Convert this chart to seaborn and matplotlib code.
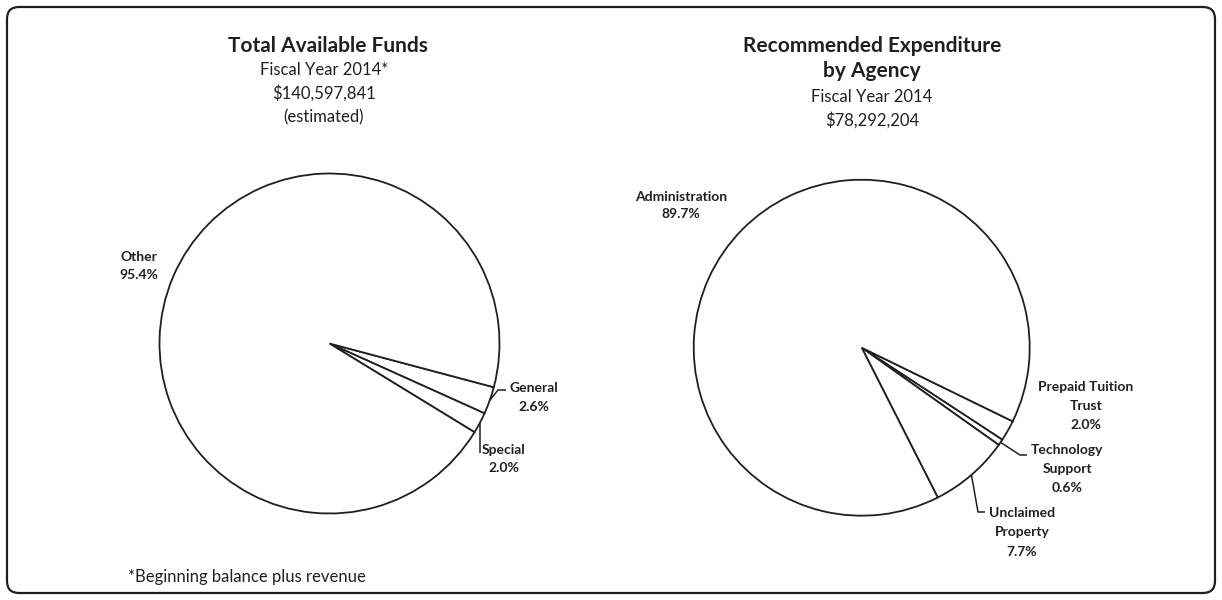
import numpy as np
import matplotlib
matplotlib.use("Agg")
import matplotlib.pyplot as plt
from matplotlib.patches import FancyBboxPatch
import seaborn as sns

# ---------------- data ----------------
fund_labels = ["General", "Special", "Other"]
fund_pcts = [2.6, 2.0, 95.4]

agency_labels = ["Prepaid Tuition\nTrust", "Technology\nSupport", "Unclaimed\nProperty", "Administration"]
agency_pcts = [2.0, 0.6, 7.7, 89.7]

left_title = "Total Available Funds"
left_sub = ["Fiscal Year 2014*", "$140,597,841", "(estimated)"]
right_title = ["Recommended Expenditure", "by Agency"]
right_sub = ["Fiscal Year 2014", "$78,292,204"]
footnote = "*Beginning balance plus revenue"

# ---------------- style ----------------
sns.set_theme(style="white")
plt.rcParams["font.family"] = ["Lato", "DejaVu Sans"]
INK = "#231f20"

W, H = 1222, 600
fig = plt.figure(figsize=(W / 100, H / 100), dpi=100)
ax = fig.add_axes([0, 0, 1, 1])


def Y(y):
    return H - y


def txt(x, y, s, size=10, weight="bold", ha="center"):
    ax.text(x, Y(y), s, fontsize=size, fontweight=weight, ha=ha, va="center", color=INK)


def lines(x, y0, items, step, **kw):
    for i, s in enumerate(items):
        txt(x, y0 + i * step, s, **kw)


wprops = dict(facecolor="white", edgecolor=INK, linewidth=1.3)

# left pie
lc, lr = (329.5, 343.5), 170
lw, _ = ax.pie(fund_pcts, startangle=-14.9, counterclock=False,
               center=(lc[0], Y(lc[1])), radius=lr, wedgeprops=wprops, frame=True)
# right pie
rc, rr = (861.7, 347.7), 168
rw, _ = ax.pie(agency_pcts, startangle=-26.0, counterclock=False,
               center=(rc[0], Y(rc[1])), radius=rr, wedgeprops=wprops, frame=True)

ax.set_xlim(0, W)
ax.set_ylim(0, H)
ax.set_axis_off()


def edge_pt(w, c, r):
    th = np.deg2rad((w.theta1 + w.theta2) / 2)
    return c[0] + r * np.cos(th), c[1] - r * np.sin(th)


def leader(pts):
    xs = [p[0] for p in pts]
    ys = [Y(p[1]) for p in pts]
    ax.plot(xs, ys, color=INK, lw=1.1, solid_capstyle="butt")


def pct(v):
    return f"{v:.1f}%"


# ---- left labels ----
p = edge_pt(lw[0], lc, lr)
leader([p, (498, 390), (506, 390)])
lines(534, 388, [fund_labels[0], pct(fund_pcts[0])], 19)
p = edge_pt(lw[1], lc, lr)
leader([p, (p[0], 453)])
lines(504, 450, [fund_labels[1], pct(fund_pcts[1])], 18)
lines(139, 257, [fund_labels[2], pct(fund_pcts[2])], 18)

# ---- right labels ----
lines(1086, 387, agency_labels[0].split("\n") + [pct(agency_pcts[0])], 19)
p = edge_pt(rw[1], rc, rr)
leader([p, (1020, 455), (1027, 455)])
lines(1067, 450, agency_labels[1].split("\n") + [pct(agency_pcts[1])], 19)
p = edge_pt(rw[2], rc, rr)
leader([p, (978, 512), (985, 512)])
lines(1022, 513, agency_labels[2].split("\n") + [pct(agency_pcts[2])], 19.5)
lines(681, 197, [agency_labels[3], pct(agency_pcts[3])], 17)

# ---- titles ----
txt(328, 46, left_title, size=15)
lines(324, 70, left_sub, 23.5, size=12, weight="normal")
lines(872, 46, right_title, 25, size=15)
lines(872, 97, right_sub, 23, size=12, weight="normal")

txt(128, 577, footnote, size=12, weight="normal", ha="left")

# border
ax.add_patch(FancyBboxPatch((7, 7), 1208, 586, boxstyle="round,pad=0,rounding_size=12",
                            facecolor="none", edgecolor=INK, linewidth=1.6,
                            transform=ax.transData, clip_on=False))

fig.savefig("out.png", dpi=100)
